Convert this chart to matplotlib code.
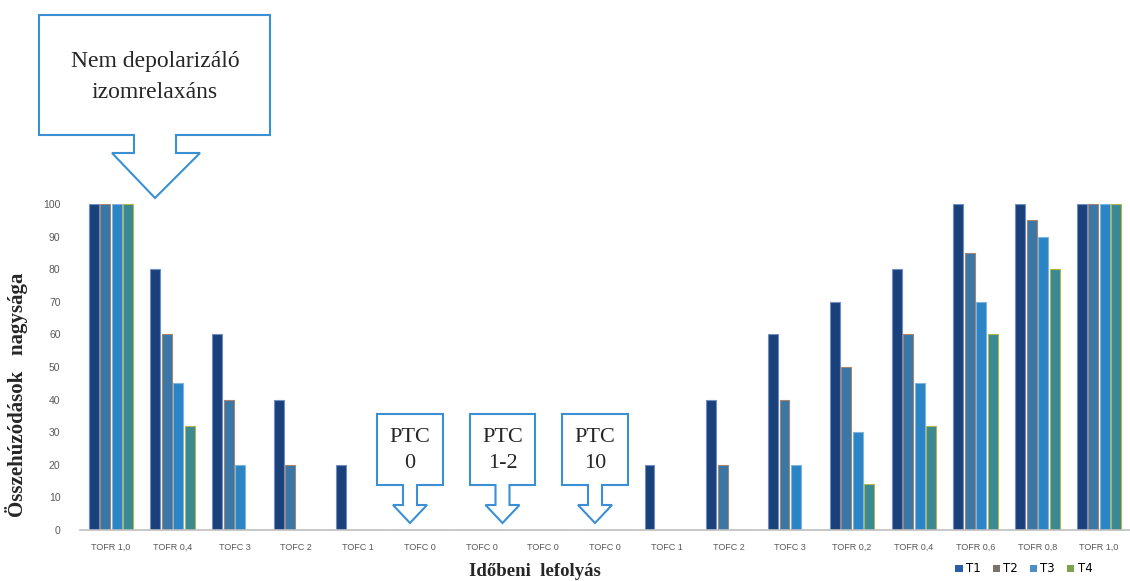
import numpy as np
import matplotlib
matplotlib.use("Agg")
import matplotlib.pyplot as plt
from matplotlib.patches import Polygon, Patch

# data
categories = ["TOFR 1,0", "TOFR 0,4", "TOFC 3", "TOFC 2", "TOFC 1", "TOFC 0", "TOFC 0",
              "TOFC 0", "TOFC 0", "TOFC 1", "TOFC 2", "TOFC 3", "TOFR 0,2", "TOFR 0,4",
              "TOFR 0,6", "TOFR 0,8", "TOFR 1,0"]
t1 = [100, 80, 60, 40, 20, 0, 0, 0, 0, 20, 40, 60, 70, 80, 100, 100, 100]
t2 = [100, 60, 40, 20, 0, 0, 0, 0, 0, 0, 20, 40, 50, 60, 85, 95, 100]
t3 = [100, 45, 20, 0, 0, 0, 0, 0, 0, 0, 0, 20, 30, 45, 70, 90, 100]
t4 = [100, 32, 0, 0, 0, 0, 0, 0, 0, 0, 0, 0, 14, 32, 60, 80, 100]
series = ["T1", "T2", "T3", "T4"]
yticks = list(range(0, 101, 10))

face = ["#1b417d", "#3a77a6", "#2a84c6", "#3b8993"]
edge = ["#6f8fc0", "#a58472", "#7fb5dd", "#b2b646"]
legend_colors = ["#2a5ca8", "#7d716b", "#4b8fc6", "#7ea04f"]

W, H = 1130, 581
fig = plt.figure(figsize=(W / 100, H / 100), dpi=100)
ax = fig.add_axes([80 / W, 51 / H, 1050 / W, 326 / H])

x = np.arange(len(categories))
slot = 0.186
bw = 0.16
for i, vals in enumerate([t1, t2, t3, t4]):
    ax.bar(x + (i - 1.5) * slot, vals, width=bw, color=face[i],
           edgecolor=edge[i], linewidth=0.8)

ax.set_xlim(-0.5, len(categories) - 0.5)
ax.set_ylim(0, 100)
ax.set_yticks(yticks)
ax.set_yticklabels([str(v) for v in yticks], fontsize=7.5, color="#595959",
                   family="Liberation Sans")
ax.set_xticks(x)
ax.set_xticklabels(categories, fontsize=6.5, color="#595959", family="Liberation Sans")
ax.tick_params(axis="both", length=0)
ax.tick_params(axis="y", pad=14)
ax.tick_params(axis="x", pad=9)
for s in ["top", "right", "left"]:
    ax.spines[s].set_visible(False)
ax.spines["bottom"].set_color("#bfbfbf")
ax.spines["bottom"].set_linewidth(1.2)

fig.text(535 / W, 1 - 571 / H, "Időbeni  lefolyás", ha="center", va="center",
         fontsize=13.5, fontweight="bold", family="Liberation Serif", color="#262626")
fig.text(17 / W, 1 - 395 / H, "Összehúzódások   nagysága", ha="center", va="center",
         rotation=90, fontsize=15, fontweight="bold", family="Liberation Serif",
         color="#262626")

handles = [Patch(facecolor=c, edgecolor="none") for c in legend_colors]
fig.legend(handles, series, loc="center right", bbox_to_anchor=(1097 / W, 1 - 569 / H),
           ncol=4, frameon=False, fontsize=8.5, handlelength=0.6, handleheight=0.6,
           handletextpad=0.3, columnspacing=1.0, borderaxespad=0)


def callout(left, right, top, bottom, s0, s1, hb0, hb1, tip_x, stem_bot, tip_y):
    pts = [(left, top), (right, top), (right, bottom), (s1, bottom), (s1, stem_bot),
           (hb1, stem_bot), (tip_x, tip_y), (hb0, stem_bot), (s0, stem_bot),
           (s0, bottom), (left, bottom)]
    pts = [(px / W, 1 - py / H) for px, py in pts]
    fig.add_artist(Polygon(pts, closed=True, transform=fig.transFigure,
                           facecolor="white", edgecolor="#3b8fd4", linewidth=1.5))


callout(39, 270, 15, 135, 134, 176, 112, 200, 155, 153, 198)
fig.text(155 / W, 1 - 62 / H, "Nem depolarizáló", ha="center", va="center",
         fontsize=17, family="Liberation Serif", color="#262626")
fig.text(155 / W, 1 - 92 / H, "izomrelaxáns", ha="center", va="center",
         fontsize=17, family="Liberation Serif", color="#262626")

small = [(377, 443, "PTC", "0"), (470, 535, "PTC", "1-2"), (562, 628, "PTC", "10")]
for l, r, a, b in small:
    c = (l + r) / 2
    callout(l, r, 414, 485, c - 7, c + 7, c - 17, c + 17, c, 505, 523)
    fig.text(c / W, 1 - 437 / H, a, ha="center", va="center", fontsize=16,
             family="Liberation Serif", color="#262626")
    fig.text(c / W, 1 - 464 / H, b, ha="center", va="center", fontsize=16,
             family="Liberation Serif", color="#262626")

fig.savefig("out.png", dpi=100)
